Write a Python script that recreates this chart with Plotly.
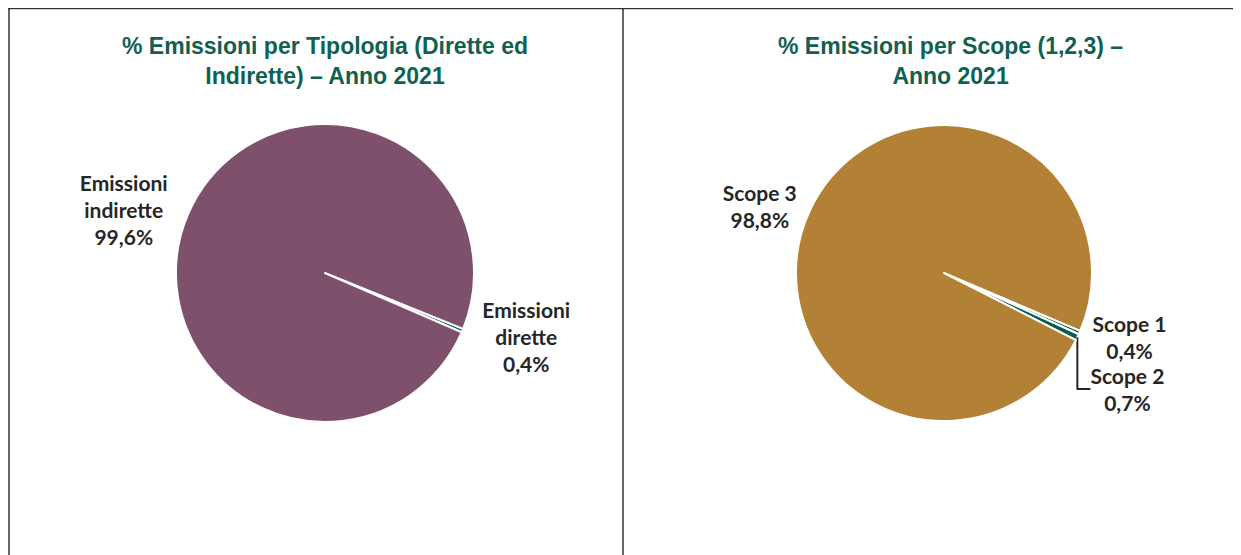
import plotly.graph_objects as go

# page body has an 8px margin, so the figure starts at (8, 8) in the window
OFF = 8
W, H = 1241 - OFF, 555 - OFF

# data
tipologia_labels = ["Emissioni<br>dirette", "Emissioni<br>indirette"]
tipologia_values = [0.4, 99.6]
tipologia_colors = ["#0B5E4F", "#7E506C"]

scope_labels = ["Scope 1", "Scope 2", "Scope 3"]
scope_values = [0.4, 0.7, 98.8]
scope_colors = ["#0B5E4F", "#0B5E4F", "#B38135"]

titles = ["% Emissioni per Tipologia (Dirette ed<br>Indirette) – Anno 2021",
          "% Emissioni per Scope (1,2,3) –<br>Anno 2021"]


def fx(px):
    return (px - OFF) / W


def fy(py):
    return 1 - (py - OFF) / H


def px_dom(cx, cy, r):
    return dict(x=[fx(cx - r), fx(cx + r)], y=[fy(cy + r), fy(cy - r)])


label_font = dict(family="Lato", size=21, color="#262626")

fig = go.Figure()
fig.add_trace(go.Pie(
    labels=tipologia_labels, values=tipologia_values,
    marker=dict(colors=tipologia_colors, line=dict(color="white", width=2)),
    sort=False, direction="clockwise", rotation=112,
    textposition="outside", texttemplate="<b>%{label}<br>%{value:.1f}%</b>",
    outsidetextfont=label_font, showlegend=False,
    domain=px_dom(325, 273, 149),
))
fig.add_trace(go.Pie(
    labels=scope_labels, values=scope_values,
    marker=dict(colors=scope_colors, line=dict(color="white", width=2)),
    sort=False, direction="clockwise", rotation=113,
    textposition="outside", texttemplate="<b>%{label}<br>%{value:.1f}%</b>",
    outsidetextfont=label_font, showlegend=False,
    domain=px_dom(944, 273, 148),
))

for t, cx in zip(titles, [325, 950]):
    fig.add_annotation(text=f"<b>{t}</b>", x=fx(cx), y=fy(61), xref="paper", yref="paper",
                       showarrow=False, xanchor="center", yanchor="middle",
                       font=dict(family="Liberation Sans", size=23, color="#0F6150"))

# panel borders (top and left sit on the figure edge)
border = dict(color="#333333", width=1.5)
fig.add_shape(type="line", xref="paper", yref="paper", x0=0, x1=1.01, y0=0.999, y1=0.999, line=border)
fig.add_shape(type="line", xref="paper", yref="paper", x0=0.0008, x1=0.0008, y0=-0.01, y1=1, line=border)
fig.add_shape(type="line", xref="paper", yref="paper", x0=fx(623), x1=fx(623), y0=-0.01, y1=1, line=border)

fig.update_layout(
    width=W, height=H,
    margin=dict(l=0, r=0, t=0, b=0),
    paper_bgcolor="white", plot_bgcolor="white",
    separators=",.",
)

fig.write_html("out.html")
